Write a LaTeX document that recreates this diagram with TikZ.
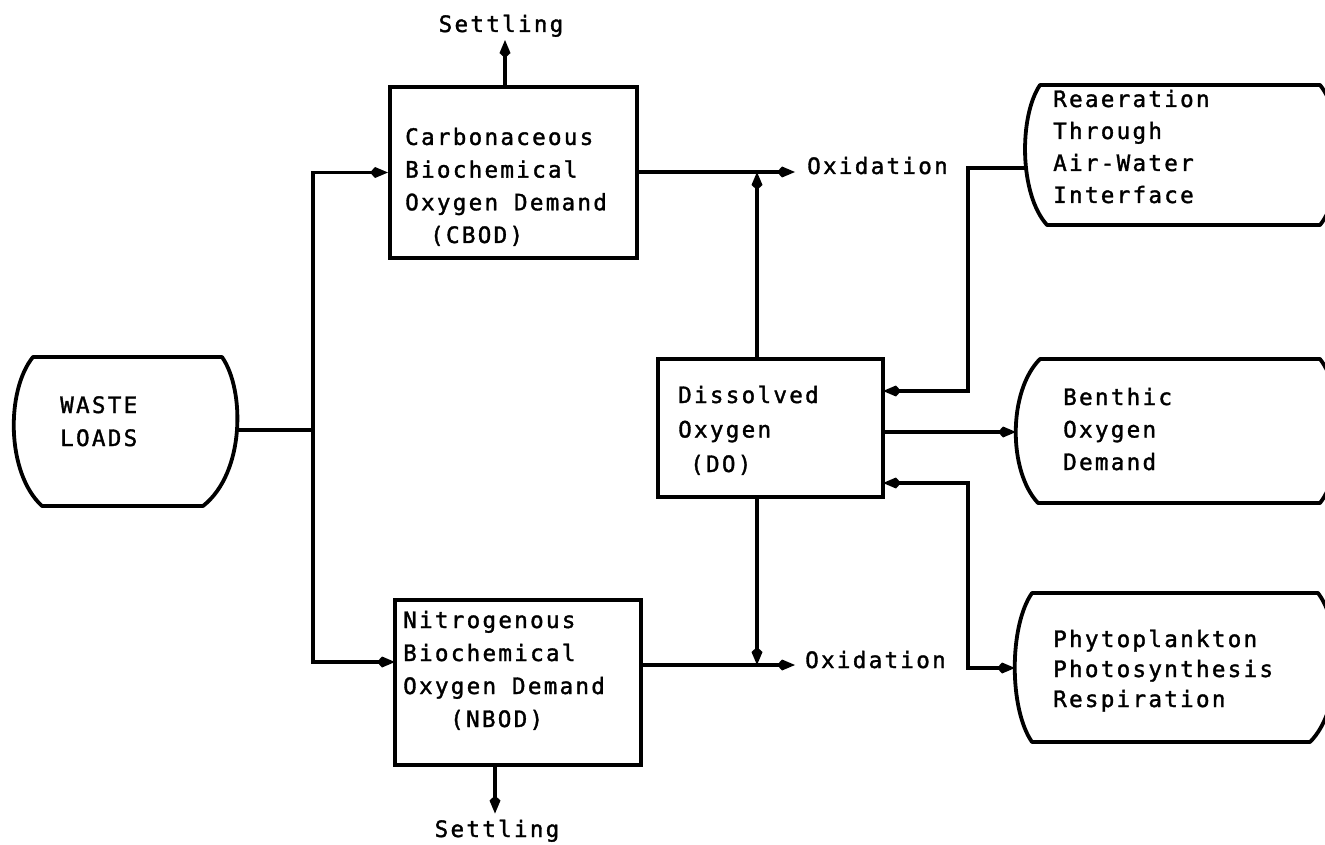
\documentclass[tikz,border=0pt]{standalone}
\usepackage{fontspec}
\newfontfamily\monofnt{DejaVu Sans Mono}[LetterSpace=10,FakeBold=1.5]
\usetikzlibrary{arrows.meta}
\begin{document}
\begin{tikzpicture}[x=1pt,y=-1pt,
  box/.style={draw, line width=4pt, rectangle, inner sep=0pt},
  shapeline/.style={line width=3.8pt, line join=round},
  conn/.style={line width=3.2pt},
  tip/.style={-{Kite[length=18pt,width=11pt,inset=5pt]}},
  both/.style={{Kite[length=18pt,width=11pt,inset=5pt]}-{Kite[length=18pt,width=11pt,inset=5pt]}},
  txt/.style={font=\monofnt\fontsize{22.6}{#1}\selectfont, align=left, inner sep=0pt, anchor=base west},
  txt/.default=33,
  lbl/.style={font=\monofnt\fontsize{22.6}{33}\selectfont, inner sep=0pt, anchor=base},
  ]
\useasboundingbox (0,0) rectangle (1325,845);

% boxes (text nodes are anchored at the baseline of their last line)
\node[box, minimum width=247pt, minimum height=171pt] (cbod) at (513.5,172.5) {};
\node[txt=32.7] (cbodt) at (405,243) {Carbonaceous\\Biochemical\\Oxygen Demand\\\hspace*{25pt}(CBOD)};
\node[box, minimum width=246pt, minimum height=165pt] (nbod) at (518,682.5) {};
\node[txt=33] (nbodt) at (403,727) {Nitrogenous\\Biochemical\\Oxygen Demand\\\hspace*{47pt}(NBOD)};
\node[box, minimum width=225pt, minimum height=138pt] (do) at (770.5,428) {};
\node[txt=34.5] (dot) at (678,472) {Dissolved\\Oxygen\\\hspace*{12pt}(DO)};

% waste loads
\draw[shapeline] (33,357) -- (222,357) .. controls (245,390) and (245,473) .. (203,506)
  -- (42,506) .. controls (6,473) and (6,390) .. cycle;
\node[txt=33] (wastet) at (60,446) {WASTE\\LOADS};
\coordinate (wasteR) at (237,430);

% reaeration
\draw[shapeline] (1040,85) -- (1320,85) .. controls (1345,116) and (1345,194) .. (1320,225)
  -- (1047,225) .. controls (1019,194) and (1019,116) .. cycle;
\node[txt=32] (reat) at (1053,203) {Reaeration\\Through\\Air-Water\\Interface};
\coordinate (reaL) at (1026,168);

% benthic
\draw[shapeline] (1040,359) -- (1320,359) .. controls (1345,391) and (1345,471) .. (1320,503)
  -- (1038,503) .. controls (1008,471) and (1008,391) .. cycle;
\node[txt=32.5] (bent) at (1063,470) {Benthic\\Oxygen\\Demand};
\coordinate (benL) at (1016,432);

% phytoplankton
\draw[shapeline] (1032,593) -- (1318,593) .. controls (1343,626) and (1343,709) .. (1310,742)
  -- (1032,742) .. controls (1009,709) and (1009,626) .. cycle;
\node[txt=30] (phyt) at (1053,707) {Phytoplankton\\Photosynthesis\\Respiration};
\coordinate (phyL) at (1015,668);

% labels
\node[lbl] (set1) at (501,32) {Settling};
\node[lbl] (set2) at (497,837) {Settling};
\node[txt] (ox1) at (807,174) {Oxidation};
\node[txt] (ox2) at (805,668) {Oxidation};

% helper coordinates
\coordinate (sx) at (313,0);
\coordinate (vx) at (757,0);
\coordinate (rx) at (968,0);
\coordinate (s1x) at (505,0);
\coordinate (s2x) at (495,0);
\coordinate (nbodW) at (395,662);
\coordinate (nbodE) at (641,665);
\coordinate (cbodE) at (637,172);
\coordinate (doR1) at (883,391);
\coordinate (doR3) at (883,483);

% connectors
\draw[conn] (wasteR) -- (wasteR -| sx);
\draw[conn,both] (cbod.west) -- (cbod.west -| sx) -- (nbodW -| sx) -- (nbodW);
\draw[conn,tip,shorten >=12pt] (cbodE) -- (cbodE -| ox1.west);
\draw[conn,tip,shorten >=10pt] (nbodE) -- (nbodE -| ox2.west);
\draw[conn,tip] (do.north -| vx) -- (vx |- cbodE);
\draw[conn,tip] (do.south -| vx) -- (vx |- nbodE);
\draw[conn,tip,shorten >=3pt] (cbod.north -| s1x) -- (s1x |- set1.south);
\draw[conn,tip,shorten >=6pt] (nbod.south -| s2x) -- (s2x |- set2.north);
\draw[conn,tip] (reaL) -- (reaL -| rx) -- (rx |- doR1) -- (doR1);
\draw[conn,tip] (do.east |- benL) -- (benL);
\draw[conn,both] (doR3) -- (rx |- doR3) -- (rx |- phyL) -- (phyL);
\end{tikzpicture}
\end{document}
